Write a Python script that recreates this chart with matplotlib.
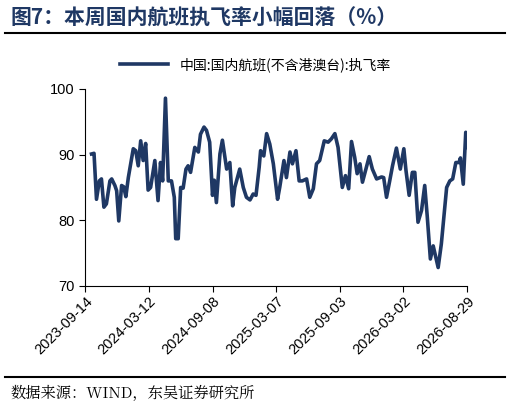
import matplotlib
matplotlib.use("Agg")
import matplotlib.pyplot as plt
from matplotlib.lines import Line2D

plt.rcParams['font.family'] = ['Liberation Sans', 'Noto Sans CJK SC', 'DejaVu Sans']

tick_labels = ["2023-09-14", "2024-03-12", "2024-09-08", "2025-03-07", "2025-09-03", "2026-03-02", "2026-08-29"]
days = [18,25,32,40,46,53,60,70,75,84,89,95,103,109,115,122,136,143,150,157,164,171,178,185,197,206,213,219,227,235,244,252,256,263,270,277,285,291,298,310,320,326,336,343,352,360,365,371,381,388,400,409,417,423,437,447,456,466,475,483,492,496,505,513,522,532,544,550,562,569,579,586,596,605,614,626,635,645,654,663,676,687,696,706,715,727,736,745,753,762,769,777,784,803,812,824,838,844,852,861,869,880,891,901,907,916,925,932,941,951,960,967,976,984,998,1007,1022,1031,1039,1048,1057,1061,1069,1076,1083]
rate = [90.1,90.2,83.2,86.0,86.3,82.0,82.5,86.0,86.3,85.3,84.5,79.9,85.3,85.1,83.6,86.5,90.9,90.6,88.3,92.1,89.1,91.7,84.6,85.0,89.1,83.0,88.8,86.0,98.6,86.0,86.0,83.5,77.2,77.2,85.0,84.9,87.8,88.3,87.3,91.1,90.4,93.1,94.2,93.7,91.9,83.8,86.1,82.7,90.1,92.2,87.8,88.8,82.2,85.0,87.8,85.0,83.5,83.1,84.0,83.8,88.1,90.6,89.8,93.2,91.6,88.6,83.2,85.0,89.1,86.5,90.4,88.6,90.6,86.0,86.0,86.3,83.5,84.8,88.6,89.1,92.1,91.9,92.4,93.2,91.1,85.0,86.8,84.8,92.0,89.6,87.1,88.6,85.8,89.7,87.8,86.3,86.6,86.5,83.5,86.0,88.3,91.0,87.8,90.9,87.6,83.8,87.3,87.3,79.7,81.5,85.3,80.7,74.1,76.1,72.8,76.4,85.0,86.0,86.3,88.8,88.8,89.5,85.5,93.4,91.1]
series_name = "中国:国内航班(不含港澳台):执飞率"
title = "图7：本周国内航班执飞率小幅回落（%）"
source = "数据来源：WIND，东吴证券研究所"

navy = "#1f3864"
fig = plt.figure(figsize=(5.1, 4.12), dpi=100)
ax = fig.add_axes([0.167, 0.306, 0.749, 0.478])
ax.plot(days, rate, color=navy, lw=2.6, solid_joinstyle='round')
ax.set_xlim(0, 1080)
ax.set_ylim(70, 100)
ax.set_yticks([70, 80, 90, 100])
ax.set_xticks([i * 180 for i in range(len(tick_labels))])
ax.set_xticklabels(tick_labels, rotation=45, ha='right', rotation_mode='anchor')
for s in ['top', 'right']:
    ax.spines[s].set_visible(False)
ax.tick_params(labelsize=10.5, direction='out', length=4)
ax.tick_params(axis='x', pad=2)

fig.text(0.02, 0.955, "  ".join([title[:3], title[3:]]) if False else title, color=navy,
         fontsize=15, fontweight='bold',
         family=['Noto Sans CJK SC', 'DejaVu Sans'], va='center')
fig.add_artist(Line2D([0.01, 0.99], [0.92, 0.92], color='black', lw=1.5))
leg = ax.legend([Line2D([], [], color=navy, lw=2.6)], [series_name], loc='upper center',
          frameon=False, prop={'family': ['Noto Sans CJK SC', 'DejaVu Sans'], 'size': 10},
          handlelength=3.5, borderaxespad=0)
leg.set_bbox_to_anchor((0.5, 0.875), transform=fig.transFigure)
fig.add_artist(Line2D([0.01, 0.99], [0.085, 0.085], color='black', lw=1.5))
fig.text(0.02, 0.045, source, fontsize=11, va='center',
         family=['Noto Serif CJK SC', 'Noto Sans CJK SC', 'DejaVu Sans'])
fig.savefig("out.png", dpi=100)
